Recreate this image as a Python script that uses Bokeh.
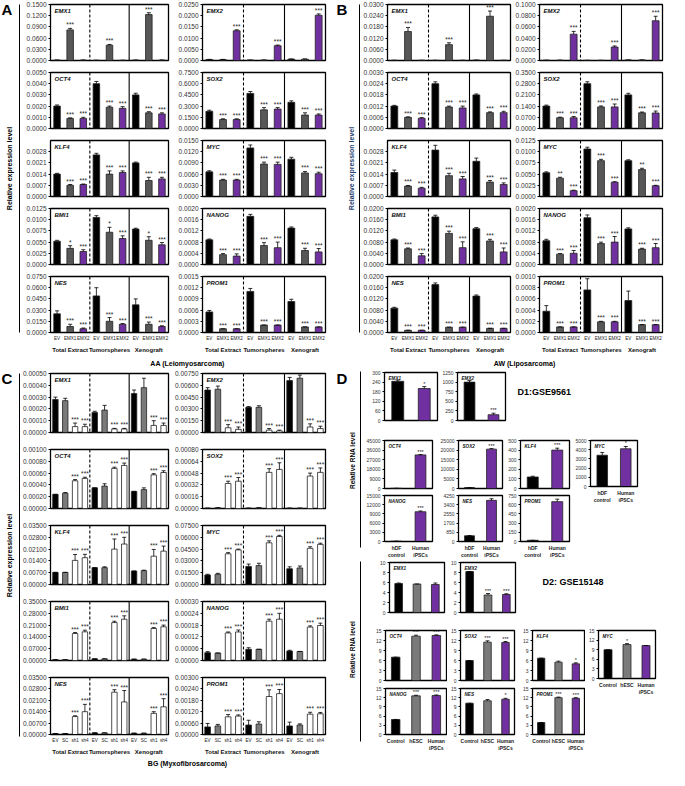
from bokeh.plotting import figure
from bokeh.models import (ColumnDataSource, FactorRange, Range1d, FixedTicker,
                          NumeralTickFormatter, Span, Spacer)
from bokeh.layouts import row, column
from bokeh.core.properties import value
from bokeh.embed import file_html
from bokeh.resources import INLINE

FONT = "Liberation Sans"

# ---------------------------------------------------------------- categories
GENES = ["EMX1", "EMX2", "OCT4", "SOX2", "KLF4", "MYC", "BMI1", "NANOG", "NES", "PROM1"]
GROUPS = ["Total Extract", "Tumorspheres", "Xenograft"]
AB_SUB = ["EV", "EMX1", "EMX2"]
C_SUB = ["EV", "SC", "sh1", "sh4"]
D1_CATS = ["hDF\ncontrol", "Human\niPSCs"]
D2_CATS = ["Control", "hESC", "Human\niPSCs"]
D_GENES = ["EMX1", "EMX2", "OCT4", "SOX2", "KLF4", "MYC", "NANOG", "NES", "PROM1"]

# significance patterns
SIG_AB = ["", "***", "***", "", "***", "***", "", "***", "***"]
SIG_AB_EMX1 = ["", "***", "", "", "***", "", "", "***", ""]
SIG_AB_EMX2 = ["", "", "***", "", "", "***", "", "", "***"]
SIG_A_BMI1 = ["", "*", "***", "", "*", "***", "", "*", "***"]
SIG_B_MYC = ["", "**", "***", "", "***", "***", "", "**", "***"]
SIG_C = ["", "", "***", "***", "", "", "***", "***", "", "", "***", "***"]

# ---------------------------------------------------------------- panel A (AA)
AA_YMAX = [0.15, 0.025, 0.005, 0.75, 0.0035, 0.015, 0.0125, 0.002, 0.075, 0.0015]
AA_EMX1 = [0.0010, 0.0820, 0.0010, 0.0005, 0.0410, 0.0005, 0.0010, 0.1230, 0.0010]
AA_EMX1_E = [0.0002, 0.0040, 0.0002, 0.0001, 0.0020, 0.0001, 0.0002, 0.0050, 0.0002]
AA_EMX2 = [0.0004, 0.0004, 0.0133, 0.0002, 0.0002, 0.0066, 0.0006, 0.0006, 0.0202]
AA_EMX2_E = [0.0001, 0.0001, 0.0004, 0.0000, 0.0000, 0.0003, 0.0001, 0.0001, 0.0006]
AA_OCT4 = [0.0020, 0.0009, 0.0009, 0.0040, 0.0019, 0.0018, 0.0030, 0.0014, 0.0013]
AA_OCT4_E = [0.0001, 0.00005, 0.0001, 0.0002, 0.0001, 0.00015, 0.00015, 0.0001, 0.0001]
AA_SOX2 = [0.23, 0.12, 0.12, 0.47, 0.25, 0.26, 0.35, 0.18, 0.18]
AA_SOX2_E = [0.015, 0.01, 0.01, 0.025, 0.03, 0.02, 0.02, 0.03, 0.015]
AA_KLF4 = [0.0014, 0.0007, 0.00075, 0.0026, 0.0014, 0.0015, 0.0021, 0.0010, 0.0011]
AA_KLF4_E = [0.00005, 0.00005, 0.00003, 0.0001, 0.0002, 0.0001, 0.00005, 0.0002, 0.0001]
AA_MYC = [0.0066, 0.0044, 0.0044, 0.0130, 0.0087, 0.0086, 0.0100, 0.0063, 0.0061]
AA_MYC_E = [0.0003, 0.0002, 0.0002, 0.0008, 0.0005, 0.0006, 0.0005, 0.0004, 0.0004]
AA_BMI1 = [0.0052, 0.0036, 0.0029, 0.0105, 0.0072, 0.0058, 0.0079, 0.0054, 0.0044]
AA_BMI1_E = [0.0002, 0.0006, 0.0004, 0.0004, 0.0011, 0.0006, 0.0002, 0.0008, 0.0005]
AA_NANOG = [0.00088, 0.00035, 0.0003, 0.00172, 0.00068, 0.0006, 0.0013, 0.0005, 0.00045]
AA_NANOG_E = [0.00003, 0.00004, 0.00008, 0.00007, 0.0001, 0.0002, 0.00004, 0.00008, 0.00012]
AA_NES = [0.025, 0.008, 0.005, 0.049, 0.015, 0.011, 0.037, 0.011, 0.008]
AA_NES_E = [0.004, 0.003, 0.001, 0.011, 0.005, 0.001, 0.008, 0.003, 0.001]
AA_PROM1 = [0.00055, 0.0001, 0.0001, 0.0011, 0.0002, 0.0002, 0.00083, 0.00015, 0.00015]
AA_PROM1_E = [0.00004, 0.0, 0.0, 0.00008, 0.0, 0.0, 0.00006, 0.0, 0.0]

# ---------------------------------------------------------------- panel B (AW)
BB_YMAX = [0.03, 0.1, 0.003, 0.35, 0.0035, 0.0125, 0.02, 0.002, 0.02, 0.001]
BB_EMX1 = [0.0001, 0.0155, 0.0001, 0.0001, 0.0085, 0.0001, 0.0002, 0.0237, 0.0001]
BB_EMX1_E = [0.0, 0.0022, 0.0, 0.0, 0.0010, 0.0, 0.0, 0.0028, 0.0]
BB_EMX2 = [0.0005, 0.0005, 0.047, 0.0003, 0.0003, 0.024, 0.0010, 0.0010, 0.071]
BB_EMX2_E = [0.0, 0.0, 0.005, 0.0, 0.0, 0.002, 0.0, 0.0, 0.008]
BB_OCT4 = [0.0012, 0.0006, 0.00055, 0.0024, 0.00115, 0.0011, 0.0018, 0.00085, 0.00085]
BB_OCT4_E = [0.00004, 0.00002, 0.00003, 0.0001, 0.00005, 0.0001, 0.00005, 0.00004, 0.00007]
BB_SOX2 = [0.14, 0.067, 0.067, 0.28, 0.135, 0.135, 0.21, 0.098, 0.097]
BB_SOX2_E = [0.006, 0.004, 0.008, 0.012, 0.006, 0.018, 0.01, 0.005, 0.012]
BB_KLF4 = [0.0015, 0.00065, 0.00052, 0.0029, 0.0013, 0.0011, 0.0022, 0.0009, 0.00075]
BB_KLF4_E = [0.00015, 0.00004, 0.00005, 0.0003, 0.00015, 0.00015, 0.0002, 0.0001, 0.0001]
BB_MYC = [0.0053, 0.0041, 0.0013, 0.0106, 0.0080, 0.0032, 0.0080, 0.0060, 0.0024]
BB_MYC_E = [0.0002, 0.0002, 0.0001, 0.0004, 0.0003, 0.0001, 0.0002, 0.0003, 0.0001]
BB_BMI1 = [0.0088, 0.0056, 0.0031, 0.0170, 0.0111, 0.0060, 0.0128, 0.0084, 0.0045]
BB_BMI1_E = [0.0003, 0.0003, 0.0008, 0.0006, 0.0008, 0.0021, 0.0004, 0.0006, 0.0014]
BB_NANOG = [0.00085, 0.00037, 0.0004, 0.00167, 0.00075, 0.0008, 0.00127, 0.00055, 0.0006]
BB_NANOG_E = [0.00005, 0.00002, 0.0001, 0.0001, 0.00005, 0.0002, 0.00004, 0.00003, 0.00015]
BB_NES = [0.0087, 0.0008, 0.0008, 0.0171, 0.0019, 0.0019, 0.0130, 0.0015, 0.0015]
BB_NES_E = [0.0003, 0.0, 0.0, 0.0006, 0.0, 0.0, 0.0004, 0.0, 0.0]
BB_PROM1 = [0.00038, 0.0001, 0.0001, 0.00076, 0.00019, 0.00019, 0.00057, 0.00014, 0.00014]
BB_PROM1_E = [0.0001, 0.0, 0.0, 0.0002, 0.00001, 0.00001, 0.00017, 0.0, 0.0]

# ---------------------------------------------------------------- panel C (BG)
CC_YMAX = [0.0005, 0.0075, 0.001, 0.0008, 0.035, 0.075, 0.35, 0.0003, 0.035, 0.003]
CC_EMX1 = [0.00028, 0.00027, 0.00005, 0.00005, 0.00017, 0.00019, 0.00003, 0.00003, 0.00033, 0.00038, 0.00006, 0.00006]
CC_EMX1_E = [0.00002, 0.00002, 0.00003, 0.00002, 0.00001, 0.00004, 0.000005, 0.000005, 0.00003, 0.00008, 0.00004, 0.00002]
CC_EMX2 = [0.0054, 0.0055, 0.0006, 0.0004, 0.0032, 0.0032, 0.0003, 0.0002, 0.0066, 0.0069, 0.0007, 0.0005]
CC_EMX2_E = [0.0003, 0.0004, 0.0004, 0.0003, 0.0001, 0.0002, 0.0002, 0.0001, 0.0004, 0.0004, 0.0004, 0.0003]
CC_OCT4 = [0.00024, 0.00026, 0.00047, 0.00051, 0.00035, 0.00038, 0.00068, 0.00073, 0.00029, 0.00032, 0.00057, 0.00061]
CC_OCT4_E = [0.0, 0.00001, 0.00002, 0.00002, 0.0, 0.00004, 0.00002, 0.00004, 0.0, 0.00003, 0.00002, 0.00003]
CC_SOX2 = [0.000005, 0.00001, 0.00034, 0.00037, 0.000005, 0.00001, 0.00049, 0.00053, 0.000005, 0.000005, 0.00044, 0.00049]
CC_SOX2_E = [0.0, 0.0, 0.00003, 0.00005, 0.0, 0.0, 0.00005, 0.00009, 0.0, 0.0, 0.00004, 0.00006]
CC_KLF4 = [0.0072, 0.0072, 0.0143, 0.0159, 0.0100, 0.0100, 0.0210, 0.0240, 0.0080, 0.0082, 0.0168, 0.0198]
CC_KLF4_E = [0.0, 0.0, 0.0035, 0.0020, 0.0, 0.0005, 0.0060, 0.0040, 0.0, 0.0003, 0.0040, 0.0030]
CC_MYC = [0.012, 0.013, 0.039, 0.044, 0.023, 0.024, 0.053, 0.061, 0.020, 0.021, 0.046, 0.051]
CC_MYC_E = [0.001, 0.0012, 0.0015, 0.001, 0.003, 0.003, 0.0025, 0.0015, 0.0025, 0.0025, 0.002, 0.0015]
CC_BMI1 = [0.005, 0.005, 0.16, 0.17, 0.01, 0.01, 0.225, 0.245, 0.008, 0.008, 0.19, 0.20]
CC_BMI1_E = [0.0, 0.0, 0.006, 0.01, 0.0, 0.0, 0.008, 0.02, 0.0, 0.0, 0.005, 0.01]
CC_NANOG = [0.00004, 0.000038, 0.00014, 0.000145, 0.000057, 0.000057, 0.0002, 0.00021, 0.000048, 0.000046, 0.00017, 0.000178]
CC_NANOG_E = [0.000005, 0.0, 0.000005, 0.00001, 0.000008, 0.0, 0.00001, 0.00003, 0.000004, 0.0, 0.000006, 0.000012]
CC_NES = [0.0006, 0.0006, 0.011, 0.014, 0.001, 0.001, 0.026, 0.020, 0.0008, 0.0008, 0.013, 0.017]
CC_NES_E = [0.0, 0.0, 0.0005, 0.0045, 0.0, 0.0, 0.0015, 0.007, 0.0, 0.0, 0.001, 0.005]
CC_PROM1 = [0.0004, 0.00045, 0.00093, 0.00097, 0.0005, 0.00055, 0.0020, 0.00215, 0.00045, 0.0005, 0.00107, 0.00109]
CC_PROM1_E = [0.00018, 0.00008, 0.00012, 0.00006, 0.00025, 0.00012, 0.00035, 0.00022, 0.0002, 0.00006, 0.0001, 0.00007]

# ---------------------------------------------------------------- panel D1 (GSE9561)
D1_YMAX = [300, 1250, 45000, 25000, 500, 5000, 15000, 4250, 750]
D1_EMX1 = [245, 200];      D1_EMX1_E = [8, 12];     D1_EMX1_S = ["", "*"]
D1_EMX2 = [1000, 150];     D1_EMX2_E = [40, 40];    D1_EMX2_S = ["", "***"]
D1_OCT4 = [200, 31500];    D1_OCT4_E = [0, 300];    D1_OCT4_S = ["", "***"]
D1_SOX2 = [500, 20500];    D1_SOX2_E = [0, 300];    D1_SOX2_S = ["", "***"]
D1_KLF4 = [120, 400];      D1_KLF4_E = [8, 20];     D1_KLF4_S = ["", "***"]
D1_MYC = [3400, 4100];     D1_MYC_E = [300, 250];   D1_MYC_S = ["", "*"]
D1_NANOG = [100, 9700];    D1_NANOG_E = [0, 250];   D1_NANOG_S = ["", "***"]
D1_NES = [530, 3800];      D1_NES_E = [20, 150];    D1_NES_S = ["", "***"]
D1_PROM1 = [20, 650];      D1_PROM1_E = [0, 40];    D1_PROM1_S = ["", "***"]

# ---------------------------------------------------------------- panel D2 (GSE15148)
D2_YMAX = [10, 10, 15, 15, 15, 15, 15, 15, 15]
D2_EMX1 = [5.8, 5.7, 5.6];    D2_EMX1_E = [0.1, 0.0, 0.3];  D2_EMX1_S = ["", "", ""]
D2_EMX2 = [8.2, 3.5, 3.6];    D2_EMX2_E = [0.0, 0.3, 0.15]; D2_EMX2_S = ["", "***", "***"]
D2_OCT4 = [7.0, 13.3, 13.5];  D2_OCT4_E = [0.0, 0.3, 0.2];  D2_OCT4_S = ["", "***", "***"]
D2_SOX2 = [6.0, 11.5, 11.4];  D2_SOX2_E = [0.0, 0.4, 0.3];  D2_SOX2_S = ["", "***", "***"]
D2_KLF4 = [6.7, 5.5, 5.0];    D2_KLF4_E = [0.0, 0.3, 0.3];  D2_KLF4_S = ["", "", "*"]
D2_MYC = [9.0, 10.6, 10.3];   D2_MYC_E = [0.0, 0.3, 0.0];   D2_MYC_S = ["", "*", ""]
D2_NANOG = [4.9, 12.6, 12.7]; D2_NANOG_E = [0.0, 0.2, 0.2]; D2_NANOG_S = ["", "***", "***"]
D2_NES = [10.2, 11.0, 11.5];  D2_NES_E = [0.0, 0.4, 0.3];   D2_NES_S = ["", "", "*"]
D2_PROM1 = [3.9, 12.0, 11.8]; D2_PROM1_E = [0.0, 0.2, 0.2]; D2_PROM1_S = ["", "***", "***"]

# colours
BLACK, GRAY_AB, GRAY_C, PURPLE = "#000000", "#575757", "#7a7a7a", "#7030A0"

# tables built from the arrays above
AA_V = [AA_EMX1, AA_EMX2, AA_OCT4, AA_SOX2, AA_KLF4, AA_MYC, AA_BMI1, AA_NANOG, AA_NES, AA_PROM1]
AA_E = [AA_EMX1_E, AA_EMX2_E, AA_OCT4_E, AA_SOX2_E, AA_KLF4_E, AA_MYC_E, AA_BMI1_E, AA_NANOG_E, AA_NES_E, AA_PROM1_E]
AA_S = [SIG_AB_EMX1, SIG_AB_EMX2, SIG_AB, SIG_AB, SIG_AB, SIG_AB, SIG_A_BMI1, SIG_AB, SIG_AB, SIG_AB]
BB_V = [BB_EMX1, BB_EMX2, BB_OCT4, BB_SOX2, BB_KLF4, BB_MYC, BB_BMI1, BB_NANOG, BB_NES, BB_PROM1]
BB_E = [BB_EMX1_E, BB_EMX2_E, BB_OCT4_E, BB_SOX2_E, BB_KLF4_E, BB_MYC_E, BB_BMI1_E, BB_NANOG_E, BB_NES_E, BB_PROM1_E]
BB_S = [SIG_AB_EMX1, SIG_AB_EMX2, SIG_AB, SIG_AB, SIG_AB, SIG_B_MYC, SIG_AB, SIG_AB, SIG_AB, SIG_AB]
CC_V = [CC_EMX1, CC_EMX2, CC_OCT4, CC_SOX2, CC_KLF4, CC_MYC, CC_BMI1, CC_NANOG, CC_NES, CC_PROM1]
CC_E = [CC_EMX1_E, CC_EMX2_E, CC_OCT4_E, CC_SOX2_E, CC_KLF4_E, CC_MYC_E, CC_BMI1_E, CC_NANOG_E, CC_NES_E, CC_PROM1_E]
CC_S = [SIG_C] * 10
D1_V = [D1_EMX1, D1_EMX2, D1_OCT4, D1_SOX2, D1_KLF4, D1_MYC, D1_NANOG, D1_NES, D1_PROM1]
D1_E = [D1_EMX1_E, D1_EMX2_E, D1_OCT4_E, D1_SOX2_E, D1_KLF4_E, D1_MYC_E, D1_NANOG_E, D1_NES_E, D1_PROM1_E]
D1_S = [D1_EMX1_S, D1_EMX2_S, D1_OCT4_S, D1_SOX2_S, D1_KLF4_S, D1_MYC_S, D1_NANOG_S, D1_NES_S, D1_PROM1_S]
D2_V = [D2_EMX1, D2_EMX2, D2_OCT4, D2_SOX2, D2_KLF4, D2_MYC, D2_NANOG, D2_NES, D2_PROM1]
D2_E = [D2_EMX1_E, D2_EMX2_E, D2_OCT4_E, D2_SOX2_E, D2_KLF4_E, D2_MYC_E, D2_NANOG_E, D2_NES_E, D2_PROM1_E]
D2_S = [D2_EMX1_S, D2_EMX2_S, D2_OCT4_S, D2_SOX2_S, D2_KLF4_S, D2_MYC_S, D2_NANOG_S, D2_NES_S, D2_PROM1_S]


def bar_fig(factors, vals, errs, sigs, colors, ymax, fmt, gene, w, h, bl, br, bt, bb,
            show_x, bar_w, seps=(), tick_fs="6.5px", gene_fs="6px", star_fs="6.5px",
            xlab_fs="4.6px", xlab_style="normal", grp_fs="6px", nested=True):
    xr = FactorRange(factors=list(factors), range_padding=0, factor_padding=0, group_padding=0)
    p = figure(width=w, height=h, x_range=xr, y_range=Range1d(0, ymax),
               output_backend="svg", toolbar_location=None,
               min_border_left=bl, min_border_right=br, min_border_top=bt, min_border_bottom=bb,
               background_fill_color="white", border_fill_color="white")
    p.xgrid.visible = False
    p.ygrid.visible = False
    p.outline_line_color = "black"
    p.outline_line_width = 1.3

    up = [v + e for v, e in zip(vals, errs)]
    src = ColumnDataSource(dict(x=list(factors), top=vals, up=up, col=colors, sig=sigs))
    p.vbar(x="x", top="top", width=bar_w, source=src, fill_color="col",
           line_color="#222222", line_width=0.8)
    p.segment(x0="x", y0="top", x1="x", y1="up", source=src, line_color="black", line_width=0.8)
    p.scatter(x="x", y="up", source=src, marker="dash", size=4, line_color="black", line_width=0.8)
    p.text(x="x", y="up", text="sig", source=src, text_align="center", text_baseline="bottom",
           y_offset=0, text_font_size=star_fs, text_color="#222222", text_font=value(FONT))
    p.text(x=[0], y=[ymax], text=[gene], x_offset=4, y_offset=3, text_baseline="top",
           text_font_size=gene_fs, text_font_style="bold italic", text_font=value(FONT),
           text_color="#111111")
    for loc, dash in seps:
        p.add_layout(Span(location=loc, dimension="height", line_color="black",
                          line_width=1.1, line_dash=dash))

    ya = p.yaxis[0]
    ya.ticker = FixedTicker(ticks=[ymax * i / 5 for i in range(6)])
    ya.formatter = NumeralTickFormatter(format=fmt)
    ya.major_label_text_font_size = tick_fs
    ya.major_label_text_font = FONT
    ya.major_label_text_color = "#333333"
    ya.major_tick_out = 2
    ya.major_tick_in = 0
    ya.minor_tick_out = 0
    ya.minor_tick_in = 0
    ya.major_label_standoff = 2
    ya.axis_line_color = "black"

    xa = p.xaxis[0]
    if show_x:
        xa.major_label_text_font_size = xlab_fs
        xa.major_label_text_font = FONT
        xa.major_label_text_font_style = xlab_style
        xa.major_label_text_color = "#222222"
        xa.major_tick_out = 0
        xa.major_tick_in = 0
        xa.major_tick_line_color = None
        xa.major_label_standoff = 3
        xa.axis_line_color = "black"
        if nested:
            xa.group_text_font_size = grp_fs
            xa.group_text_font_style = "bold"
            xa.group_text_font = FONT
            xa.group_text_color = "#111111"
            xa.separator_line_color = None
    else:
        xa.visible = False
    return p


def canvas(w, h):
    p = figure(width=w, height=h, x_range=Range1d(0, w), y_range=Range1d(h, 0),
               output_backend="svg", toolbar_location=None,
               x_axis_location=None, y_axis_location=None, min_border=0,
               background_fill_color="white", border_fill_color="white")
    p.grid.visible = False
    p.outline_line_color = None
    return p


def ctext(p, x, y, txt, size, style="bold", angle=0, align="left", baseline="top", color="black"):
    p.text(x=[x], y=[y], text=[txt], angle=angle, text_align=align, text_baseline=baseline,
           text_font_size=size, text_font_style=style, text_font=value(FONT), text_color=color)


def panel_grid(V, E, S, YMAX, sub, colors, fmt, geo, bar_w, seps, rowh, lasth, bt, bb, lastbb):
    factors = [(g, s) for g in GROUPS for s in sub]
    cols = colors * 3
    rows = []
    for r in range(5):
        figs = []
        for c in range(2):
            i = 2 * r + c
            w, bl, br = geo[c]
            last = (r == 4)
            figs.append(bar_fig(factors, V[i], E[i], S[i], cols, YMAX[i], fmt, GENES[i],
                                w, lasth if last else rowh, bl, br, bt,
                                lastbb if last else bb, last, bar_w, seps))
        rows.append(row(*figs))
    return rows


# ---------------------------------------------------------------- top block (A, B)
TOP_H = 4 * 68 + 84 + 13
AB_SEPS = [(3, "3 2"), (6, "solid")]

a_strip = canvas(20, TOP_H)
ctext(a_strip, 1, 0, "A", "15px")
ctext(a_strip, 9, 168, "Relative expression level", "7px", angle=1.5708, align="center",
      baseline="middle")
a_strip.segment(x0=[19], y0=[4], x1=[19], y1=[332], line_color="black", line_width=1)

a_rows = panel_grid(AA_V, AA_E, AA_S, AA_YMAX, AB_SUB, [BLACK, GRAY_AB, PURPLE], "0.0000",
                    [(150, 30, 2), (158, 32, 3)], 0.5, AB_SEPS, 68, 84, 4, 8, 24)
a_title = canvas(308, 13)
ctext(a_title, 167, 7, "AA (Leiomyosarcoma)", "7px", align="center", baseline="middle")
a_col = column(*a_rows, a_title)

b_strip = canvas(32, TOP_H)
ctext(b_strip, 8, 0, "B", "15px")
ctext(b_strip, 23, 168, "Relative expression level", "7px", angle=1.5708, align="center",
      baseline="middle", color="#1F3F6F")
b_strip.segment(x0=[31], y0=[4], x1=[31], y1=[332], line_color="black", line_width=1)

b_rows = panel_grid(BB_V, BB_E, BB_S, BB_YMAX, AB_SUB, [BLACK, GRAY_AB, PURPLE], "0.0000",
                    [(152, 27, 2), (153, 25, 3)], 0.5, AB_SEPS, 68, 84, 4, 8, 24)
b_title = canvas(305, 13)
ctext(b_title, 164, 7, "AW (Liposarcoma)", "7px", align="center", baseline="middle")
b_col = column(*b_rows, b_title)

top = row(a_strip, a_col, b_strip, b_col)

# ---------------------------------------------------------------- bottom block (C, D)
BOT_H = 4 * 76 + 84 + 12
C_SEPS = [(4, "3 2"), (8, "solid")]

c_strip = canvas(20, BOT_H)
ctext(c_strip, 1, 0, "C", "15px")
ctext(c_strip, 9, 186, "Relative expression level", "7px", angle=1.5708, align="center",
      baseline="middle")
c_strip.segment(x0=[19], y0=[4], x1=[19], y1=[367], line_color="black", line_width=1)

c_rows = panel_grid(CC_V, CC_E, CC_S, CC_YMAX, C_SUB, [BLACK, GRAY_C, "white", "white"], "0.00000",
                    [(150, 30, 2), (158, 32, 3)], 0.55, C_SEPS, 76, 84, 4, 13, 22)
c_title = canvas(308, 12)
ctext(c_title, 167, 6, "BG (Myxofibrosarcoma)", "7px", align="center", baseline="middle")
c_col = column(*c_rows, c_title)

d_strip = canvas(34, BOT_H)
ctext(d_strip, 8, 0, "D", "15px")
ctext(d_strip, 24, 91, "Relative RNA level", "6.5px", angle=1.5708, align="center", baseline="middle")
ctext(d_strip, 24, 280, "Relative RNA level", "6.5px", angle=1.5708, align="center", baseline="middle")
d_strip.segment(x0=[32, 32], y0=[2, 192], x1=[32, 32], y1=[178, 372], line_color="black", line_width=1)

D1_COL = [BLACK, PURPLE]
D2_COL = [BLACK, GRAY_C, PURPLE]


def dfig(which, i, w, h, bl, br, bt, bb, show_x):
    if which == 1:
        cats, V, E, S, YM, cols = D1_CATS, D1_V, D1_E, D1_S, D1_YMAX, D1_COL
        bw = 0.45
    else:
        cats, V, E, S, YM, cols = D2_CATS, D2_V, D2_E, D2_S, D2_YMAX, D2_COL
        bw = 0.42
    return bar_fig(cats, V[i], E[i], S[i], cols, YM[i], "0", D_GENES[i], w, h, bl, br, bt, bb,
                   show_x, bw, (), tick_fs="5px", gene_fs="4.6px", star_fs="5.5px",
                   xlab_fs="5px", xlab_style="bold", nested=False)


# D1 row 1
d1_t = canvas(158, 68)
ctext(d1_t, 10, 28, "D1:GSE9561", "9px", baseline="middle")
d1_r1 = row(dfig(1, 0, 77, 68, 22, 2, 3, 17, False),
            dfig(1, 1, 68, 68, 17, 2, 3, 17, False), d1_t)
# D1 rows 2-3
d1_r23 = row(column(dfig(1, 2, 75, 55, 22, 5, 3, 4, False), dfig(1, 6, 75, 68, 22, 5, 3, 17, True)),
             column(dfig(1, 3, 67, 55, 18, 2, 3, 4, False), dfig(1, 7, 67, 68, 18, 2, 3, 17, True)),
             column(dfig(1, 4, 68, 55, 16, 3, 3, 4, False), dfig(1, 8, 68, 68, 16, 3, 3, 17, True)),
             column(dfig(1, 5, 93, 68, 16, 28, 3, 17, True), Spacer(width=93, height=55)))
# D2 row 1
d2_t = canvas(148, 68)
ctext(d2_t, 25, 26, "D2: GSE15148", "9px", baseline="middle")
d2_r1 = row(dfig(2, 0, 85, 68, 27, 3, 2, 16, False),
            dfig(2, 1, 70, 68, 10, 2, 2, 16, False), d2_t)
# D2 rows 2-3
d2_r23 = row(column(dfig(2, 2, 85, 57, 23, 1, 2, 5, False), dfig(2, 6, 85, 68, 23, 1, 3, 17, True)),
             column(dfig(2, 3, 72, 57, 10, 5, 2, 5, False), dfig(2, 7, 72, 68, 10, 5, 3, 17, True)),
             column(dfig(2, 4, 66, 57, 10, 1, 2, 5, False), dfig(2, 8, 66, 68, 10, 1, 3, 17, True)),
             column(dfig(2, 5, 80, 69, 10, 10, 2, 17, True), Spacer(width=80, height=56)))

d_col = column(d1_r1, d1_r23, d2_r1, d2_r23)

bottom = row(c_strip, c_col, d_strip, d_col)

page = column(top, bottom)

open("out.html", "w").write(file_html(page, INLINE))
